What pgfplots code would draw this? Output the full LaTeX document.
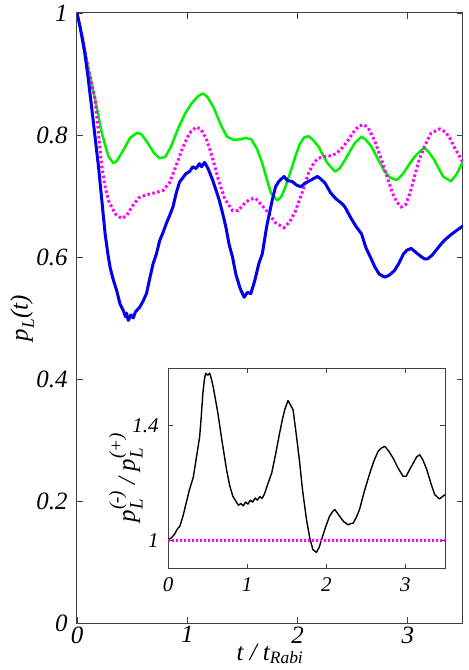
\documentclass[border=0pt]{standalone}
\usepackage{fontspec}
\setmainfont{Liberation Serif}
\usepackage{amsmath}
\usepackage{pgfplots}
\pgfplotsset{compat=1.18}

\definecolor{pgreen}{RGB}{0,240,0}
\definecolor{pblue}{RGB}{0,0,235}
\definecolor{pmag}{RGB}{255,0,255}

\newcommand{\ti}[1]{\text{\itshape #1}}
\newcommand{\ts}[1]{\text{\fontsize{19}{19}\selectfont\itshape #1}}

\pgfplotsset{
  gp/.style={
    scale only axis,
    axis line style={line width=1bp, black!75},
    tick style={line width=0.8bp, black!75},
    major tick length=6bp,
    xticklabel={\pgfmathprintnumber[assume math mode=true]{\tick}},
    yticklabel={\pgfmathprintnumber[assume math mode=true]{\tick}},
    label style={font=\fontsize{25}{27}\selectfont\itshape},
  }
}

% main curves
\pgfplotstableread{
t p
0 1.000
0.05 0.960
0.10 0.910
0.165 0.858
0.225 0.803
0.285 0.765
0.33 0.754
0.36 0.757
0.42 0.775
0.48 0.795
0.54 0.803
0.58 0.802
0.63 0.790
0.70 0.770
0.75 0.762
0.80 0.764
0.85 0.780
0.92 0.812
0.98 0.835
1.04 0.852
1.10 0.864
1.14 0.868
1.18 0.863
1.24 0.845
1.30 0.818
1.36 0.797
1.42 0.792
1.48 0.793
1.53 0.795
1.58 0.793
1.63 0.778
1.68 0.754
1.72 0.728
1.76 0.704
1.816 0.693
1.85 0.698
1.89 0.715
1.94 0.742
1.98 0.765
2.02 0.785
2.06 0.796
2.10 0.798
2.14 0.792
2.19 0.781
2.23 0.767
2.27 0.754
2.34 0.740
2.38 0.745
2.43 0.759
2.48 0.775
2.52 0.787
2.58 0.797
2.62 0.792
2.67 0.781
2.73 0.760
2.79 0.740
2.84 0.730
2.90 0.726
2.95 0.735
3.02 0.754
3.07 0.766
3.11 0.773
3.15 0.779
3.19 0.772
3.24 0.759
3.28 0.745
3.32 0.732
3.39 0.724
3.44 0.735
3.50 0.757
}\greendata

\pgfplotstableread{
t p
0 1.000
0.05 0.960
0.10 0.910
0.165 0.858
0.195 0.803
0.225 0.748
0.255 0.715
0.285 0.693
0.345 0.671
0.405 0.663
0.45 0.668
0.50 0.683
0.56 0.697
0.63 0.702
0.70 0.705
0.78 0.709
0.84 0.722
0.90 0.750
0.96 0.780
1.02 0.803
1.08 0.813
1.12 0.810
1.17 0.795
1.22 0.768
1.28 0.728
1.34 0.695
1.41 0.676
1.46 0.676
1.52 0.688
1.57 0.695
1.62 0.696
1.68 0.684
1.74 0.671
1.80 0.656
1.877 0.648
1.93 0.658
1.98 0.675
2.04 0.705
2.10 0.738
2.15 0.755
2.19 0.762
2.25 0.765
2.31 0.766
2.36 0.771
2.41 0.780
2.46 0.792
2.52 0.808
2.56 0.815
2.60 0.817
2.64 0.812
2.70 0.790
2.76 0.760
2.81 0.732
2.86 0.705
2.90 0.690
2.94 0.682
2.98 0.686
3.02 0.705
3.06 0.732
3.10 0.758
3.15 0.781
3.21 0.803
3.29 0.810
3.34 0.805
3.38 0.795
3.43 0.777
3.50 0.755
}\magdata

\pgfplotstableread{
t p
0 1.000
0.03 0.975
0.07 0.935
0.10 0.895
0.135 0.842
0.165 0.795
0.195 0.748
0.225 0.693
0.255 0.638
0.28 0.605
0.30 0.583
0.33 0.562
0.36 0.545
0.39 0.523
0.42 0.512
0.44 0.502
0.45 0.508
0.465 0.496
0.49 0.505
0.51 0.500
0.53 0.510
0.57 0.518
0.60 0.528
0.63 0.540
0.66 0.565
0.69 0.589
0.72 0.605
0.75 0.627
0.78 0.640
0.81 0.655
0.84 0.668
0.87 0.682
0.90 0.705
0.93 0.723
0.96 0.730
0.99 0.737
1.02 0.740
1.05 0.748
1.08 0.745
1.11 0.753
1.13 0.748
1.156 0.755
1.18 0.748
1.20 0.740
1.23 0.726
1.26 0.710
1.29 0.693
1.32 0.672
1.35 0.649
1.38 0.620
1.41 0.600
1.44 0.572
1.48 0.548
1.516 0.534
1.545 0.542
1.576 0.540
1.61 0.560
1.65 0.590
1.68 0.605
1.72 0.650
1.77 0.693
1.80 0.715
1.83 0.724
1.877 0.732
1.91 0.725
1.95 0.724
1.99 0.718
2.03 0.715
2.06 0.720
2.10 0.724
2.14 0.728
2.18 0.732
2.21 0.728
2.25 0.721
2.30 0.705
2.35 0.695
2.40 0.688
2.43 0.682
2.48 0.665
2.53 0.650
2.58 0.638
2.62 0.615
2.66 0.600
2.70 0.584
2.74 0.572
2.79 0.567
2.83 0.570
2.88 0.578
2.92 0.590
2.96 0.605
2.99 0.611
3.03 0.614
3.07 0.608
3.11 0.602
3.15 0.597
3.18 0.597
3.22 0.603
3.26 0.612
3.30 0.621
3.33 0.627
3.38 0.635
3.43 0.642
3.50 0.651
}\bluedata

% inset ratio
\pgfplotstableread{
t r
0 1.002
0.04 1.008
0.08 1.020
0.12 1.040
0.15 1.049
0.19 1.085
0.23 1.130
0.27 1.175
0.32 1.220
0.36 1.290
0.40 1.360
0.42 1.430
0.44 1.510
0.46 1.560
0.476 1.582
0.50 1.575
0.527 1.582
0.55 1.560
0.57 1.536
0.60 1.490
0.63 1.443
0.68 1.350
0.74 1.246
0.78 1.190
0.82 1.153
0.86 1.135
0.89 1.122
0.92 1.128
0.95 1.120
0.98 1.133
1.01 1.126
1.04 1.140
1.07 1.133
1.10 1.147
1.13 1.140
1.16 1.152
1.19 1.146
1.22 1.162
1.26 1.195
1.31 1.234
1.36 1.300
1.41 1.373
1.445 1.420
1.475 1.455
1.517 1.487
1.55 1.470
1.58 1.455
1.62 1.370
1.66 1.280
1.70 1.175
1.75 1.072
1.79 1.010
1.83 0.968
1.875 0.958
1.91 0.975
1.94 1.002
1.99 1.045
2.04 1.083
2.08 1.100
2.107 1.107
2.14 1.095
2.17 1.083
2.22 1.065
2.275 1.054
2.31 1.058
2.34 1.060
2.38 1.080
2.42 1.107
2.48 1.170
2.55 1.234
2.60 1.275
2.655 1.310
2.70 1.322
2.74 1.327
2.79 1.310
2.845 1.286
2.91 1.250
2.97 1.223
3.01 1.223
3.06 1.250
3.10 1.269
3.14 1.290
3.18 1.298
3.22 1.280
3.27 1.246
3.32 1.200
3.37 1.159
3.43 1.144
3.50 1.159
}\ratiodata

\begin{document}
\begin{tikzpicture}
\useasboundingbox (-77bp,-47bp) rectangle (392bp,623bp);
\begin{axis}[gp,
  at={(0,0)}, anchor=south west,
  width=386bp, height=610bp,
  xmin=0, xmax=3.5, ymin=0, ymax=1,
  xtick={0,1,2,3},
  ytick={0,0.2,0.4,0.6,0.8,1},
  tick label style={font=\fontsize{25}{27}\selectfont\itshape},
  yticklabel style={xshift=-6bp},
  xlabel={$\ti{t / t}_{\ti{Rabi}}$},
  ylabel={$\ti{p}_{\ti{L}}\ti{(t)}$},
  xlabel style={at={(axis description cs:0.5,-0.028)}, anchor=north},
  ylabel style={at={(axis description cs:-0.142,0.5)}, anchor=center},
  clip=true,
]
\addplot[pgreen, line width=2.5bp, line join=round] table[x=t, y=p] {\greendata};
\addplot[pmag, line width=3bp, dash pattern=on 2.5bp off 2.5bp] table[x=t, y=p] {\magdata};
\addplot[pblue, line width=3bp, line join=round] table[x=t, y=p] {\bluedata};
\end{axis}

\begin{axis}[gp,
  at={(91bp,54bp)}, anchor=south west,
  width=277bp, height=201bp,
  xmin=0, xmax=3.5, ymin=0.9, ymax=1.6,
  xtick={0,1,2,3},
  ytick={1,1.4},
  major tick length=5bp,
  tick label style={font=\fontsize{21}{23}\selectfont\itshape},
  yticklabel style={xshift=-6bp},
  xticklabel style={yshift=-5bp},
  axis background/.style={fill=white},
  ylabel={$\ti{p}_{\ts{L}}^{\ts{(-)}}\ti{\ / }\ti{p}_{\ts{L}}^{\ts{(+)}}$},
  ylabel style={at={(axis description cs:-0.152,0.455)}, anchor=center},
]
\addplot[black, line width=1.4bp, line join=round] table[x=t, y=r] {\ratiodata};
\addplot[pmag, line width=2.5bp, dash pattern=on 2bp off 2bp] coordinates {(0,1) (3.5,1)};
\end{axis}
\end{tikzpicture}
\end{document}
